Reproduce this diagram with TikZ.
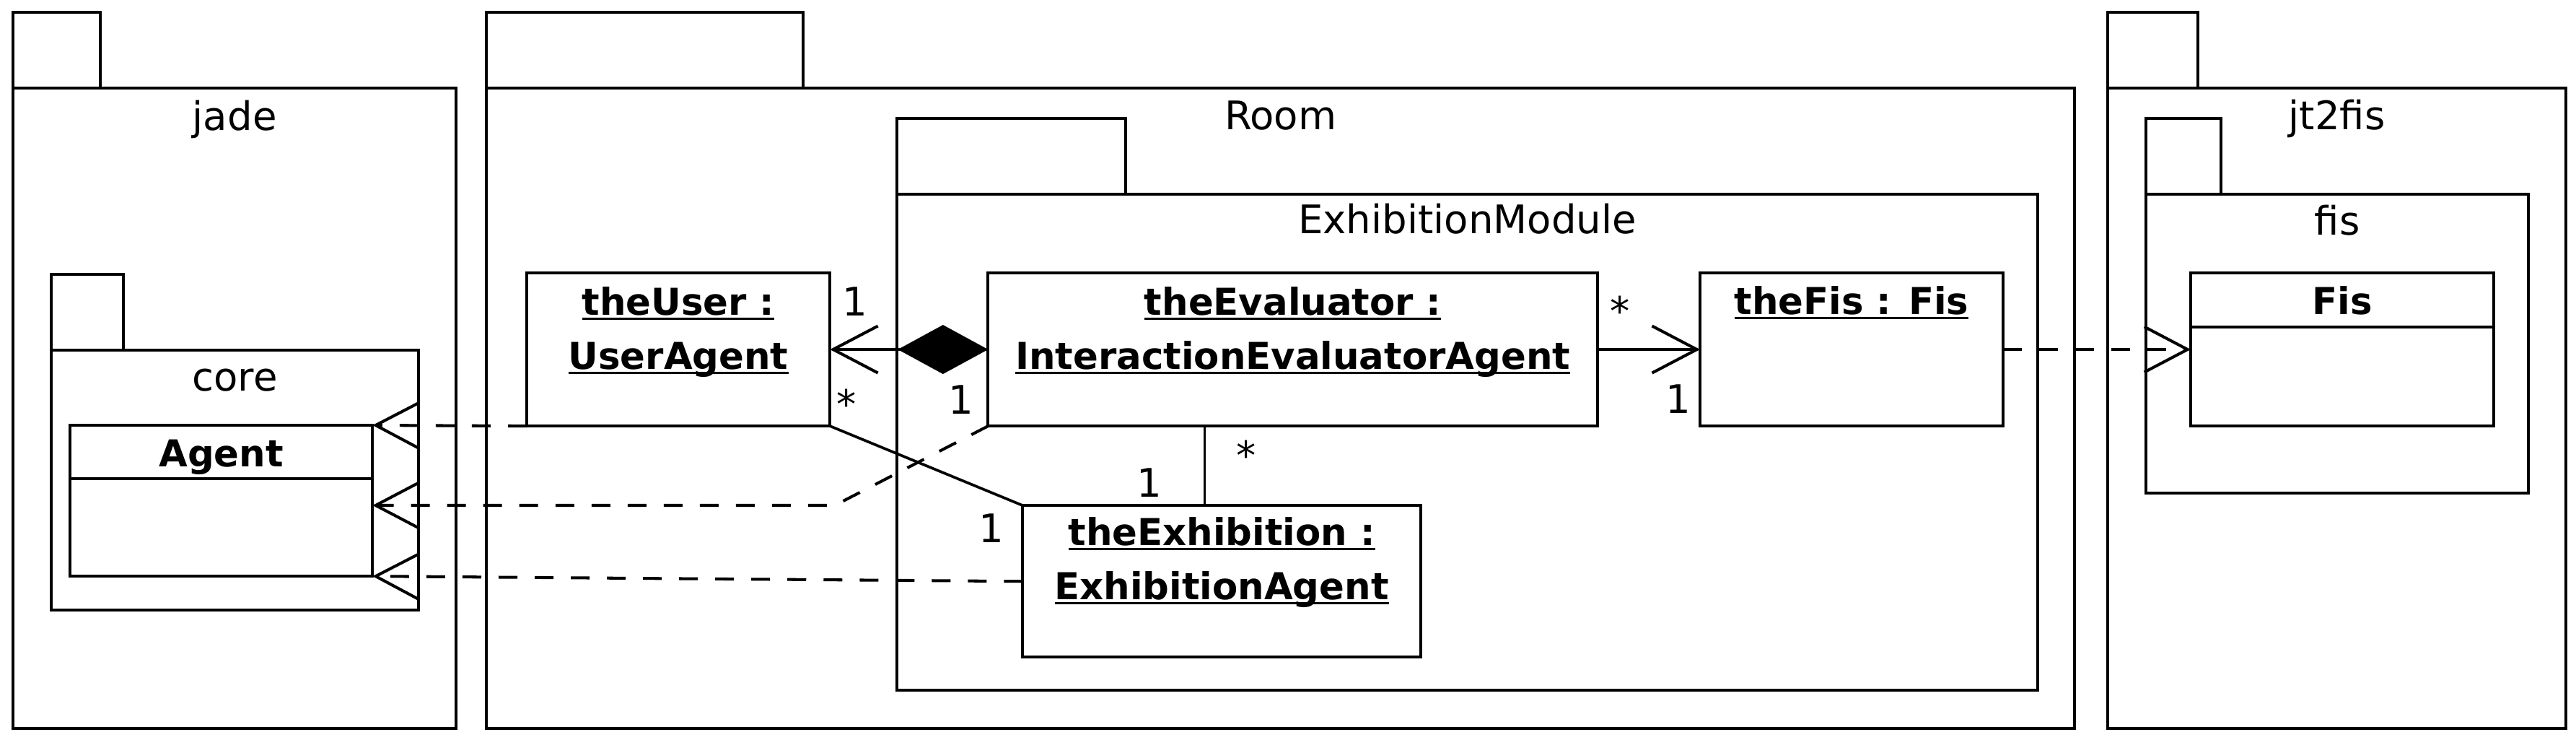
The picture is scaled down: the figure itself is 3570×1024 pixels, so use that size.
\documentclass[tikz,border=0pt]{standalone}
\usepackage{fontspec}
\setmainfont{DejaVu Sans}
\usetikzlibrary{arrows.meta,positioning,calc}

\newcommand{\pkgfont}{\fontsize{15.5pt}{19pt}\selectfont}
\newcommand{\objfont}{\fontsize{14.6pt}{21.3pt}\selectfont\bfseries}
\newcommand{\ulname}[1]{\sbox0{#1}\rlap{\rule[-1.9pt]{\wd0}{0.8pt}}\usebox0}

\begin{document}
\begin{tikzpicture}[x=0.01cm, y=-0.01cm, line width=1.15pt,
      pkg/.style={rectangle, draw, anchor=north west, inner sep=0pt, outer sep=0pt},
      tab/.style={rectangle, draw, inner sep=0pt, outer sep=0pt, minimum height=1.05cm},
      pkgname/.style={anchor=base, font=\pkgfont, inner sep=0pt},
      objbox/.style={rectangle, draw, inner sep=0pt, outer sep=0pt,
            minimum width=4.2cm, minimum height=2.12cm},
      objname/.style={anchor=base, align=center, font=\objfont, inner sep=0pt},
      mult/.style={anchor=base, font=\pkgfont, inner sep=0pt},
      depend/.style={dash pattern=on 0.26cm off 0.24cm, -{Straight Barb[length=0.6cm, width=0.63cm]}},
      navig/.style={-{Straight Barb[length=0.62cm, width=0.65cm]}},
      compo/.style={{Diamond[length=1.25cm, width=0.68cm]}-{Straight Barb[length=0.62cm, width=0.65cm]}},
      assoc/.style={line width=1.05pt}
]
      \useasboundingbox (0,0) rectangle (3570,1024);

      % packages
      \node[pkg, minimum width=6.14cm, minimum height=8.86cm] (jade) at (18,122) {};
      \node[tab, minimum width=1.21cm, above right=0pt and 0pt of jade.north west] (jadetab) {};
      \node[pkgname] (jadename) at ([yshift=-0.58cm]jade.north) {jade};

      \node[pkg, minimum width=5.09cm, minimum height=3.6cm] (core) at (71,485) {};
      \node[tab, minimum width=1.0cm, above right=0pt and 0pt of core.north west] (coretab) {};
      \node[pkgname] (corename) at ([yshift=-0.56cm]core.north) {core};

      \node[pkg, minimum width=22.0cm, minimum height=8.86cm] (room) at (674,122) {};
      \node[tab, minimum width=4.39cm, above right=0pt and 0pt of room.north west] (roomtab) {};
      \node[pkgname] (roomname) at ([yshift=-0.57cm]room.north) {Room};

      \node[pkg, minimum width=15.8cm, minimum height=6.87cm] (exhmod) at (1243,269) {};
      \node[tab, minimum width=3.17cm, above right=0pt and 0pt of exhmod.north west] (exhmodtab) {};
      \node[pkgname] (exhmodname) at ([yshift=-0.54cm]exhmod.north) {ExhibitionModule};

      \node[pkg, minimum width=6.35cm, minimum height=8.86cm] (jtfis) at (2921,122) {};
      \node[tab, minimum width=1.25cm, above right=0pt and 0pt of jtfis.north west] (jtfistab) {};
      \node[pkgname] (jtfisname) at ([yshift=-0.57cm]jtfis.north) {jt2fis};

      \node[pkg, minimum width=5.3cm, minimum height=4.14cm] (fis) at (2974,269) {};
      \node[tab, minimum width=1.04cm, above right=0pt and 0pt of fis.north west] (fistab) {};
      \node[pkgname] (fisname) at ([yshift=-0.56cm]fis.north) {fis};

      % classes
      \node[objbox, anchor=north west, minimum width=4.19cm, minimum height=2.09cm] (agent) at (97,589) {};
      \draw ([yshift=-0.74cm]agent.north west) -- ([yshift=-0.74cm]agent.north east);
      \node[objname] (agentname) at ([yshift=-0.57cm]agent.north) {Agent};

      \node[objbox, anchor=north west] (fiscls) at (3036,378) {};
      \draw ([yshift=-0.75cm]fiscls.north west) -- ([yshift=-0.75cm]fiscls.north east);
      \node[objname] (fisclsname) at ([yshift=-0.57cm]fiscls.north) {Fis};

      % objects
      \node[objbox, anchor=north west] (user) at (730,378) {};
      \node[objbox, right=2.19cm of user, minimum width=8.44cm] (evaluator) {};
      \node[objbox, right=1.42cm of evaluator] (thefis) {};
      \node[objbox, below right=1.1cm and 2.67cm of user, minimum width=5.51cm, minimum height=2.1cm] (exhibition) {};

      % base of a two-line name is its second line
      \node[objname] (username) at ([yshift=-1.33cm]user.north) {\ulname{theUser :}\\\ulname{UserAgent}};
      \node[objname] (evaluatorname) at ([yshift=-1.33cm]evaluator.north) {\ulname{theEvaluator :}\\\ulname{InteractionEvaluatorAgent}};
      \node[objname] (thefisname) at ([yshift=-0.57cm]thefis.north) {\ulname{theFis : Fis}};
      \node[objname] (exhibitionname) at ([yshift=-1.3cm]exhibition.north) {\ulname{theExhibition :}\\\ulname{ExhibitionAgent}};

      % multiplicities
      \node[mult] (muser) at (1185,437) {1};
      \node[mult] (meval) at (1332,573) {1};
      \node[mult] (muserexh) at (1173,579) {*};
      \node[mult] (mexhuser) at (1374,751) {1};
      \node[mult] (mevalexh) at (1727,650) {*};
      \node[mult] (mexheval) at (1593,688) {1};
      \node[mult] (mevalfis) at (2245,450) {*};
      \node[mult] (mfis) at (2326,572) {1};

      % connectors
      \coordinate (evalbend) at (1157,700);

      \draw[compo] (evaluator) -- (user);
      \draw[navig] (evaluator) -- (thefis);
      \draw[assoc] (user.south east) -- (exhibition.north west);
      \draw[assoc] ([xshift=-0.235cm]exhibition.north) -- ([xshift=-0.235cm]exhibition.north |- evaluator.south);
      \draw[depend] (user.south west) -- (agent.north east);
      \draw[depend] (evaluator.south west) -- (evalbend) -- (agent.east |- evalbend);
      \draw[depend] (exhibition.west) -- (agent.south east);
      \draw[depend] (thefis) -- (fiscls);
\end{tikzpicture}
\end{document}
